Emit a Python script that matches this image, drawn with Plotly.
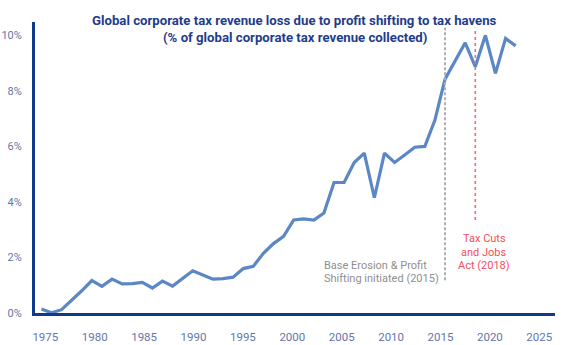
import plotly.graph_objects as go

# Global corporate tax revenue lost to profit shifting, % of revenue collected
years = list(range(1975, 2023))
loss_pct = [
    0.14, 0.01, 0.12, 0.45, 0.80, 1.17, 0.96, 1.22, 1.05, 1.06,
    1.10, 0.90, 1.15, 0.97, 1.23, 1.52, 1.37, 1.22, 1.24, 1.29,
    1.60, 1.68, 2.15, 2.50, 2.76, 3.35, 3.39, 3.35, 3.60, 4.70,
    4.70, 5.42, 5.76, 4.15, 5.76, 5.42, 5.69, 5.97, 6.00, 6.95,
    8.42, 9.08, 9.73, 8.87, 10.00, 8.63, 9.89, 9.62,
]

year_ticks = [1975, 1980, 1985, 1990, 1995, 2000, 2005, 2010, 2015, 2020, 2025]
pct_ticks = [0, 2, 4, 6, 8, 10]
pct_labels = ["0%", "2%", "4%", "6%", "8%", "10%"]

beps_year = 2015
tcja_year = 2018

title_lines = [
    "Global corporate tax revenue loss due to profit shifting to tax havens",
    "(% of global corporate tax revenue collected)",
]
beps_lines = ["Base Erosion & Profit", "Shifting initiated (2015)"]
tcja_lines = ["Tax Cuts", "and Jobs", "Act (2018)"]

NAVY = "#0d3a8e"
TICK = "#6475a9"
LINE = "#5b87c6"
GREY = "#8f8f8f"
RED = "#f2505c"
FONT = "Roboto"

fig = go.Figure()
fig.add_trace(go.Scatter(
    x=years, y=loss_pct, mode="lines",
    line=dict(color=LINE, width=3.2),
    showlegend=False, hoverinfo="x+y",
))
# carrier for the labelled year axis
fig.add_trace(go.Scatter(x=[], y=[], xaxis="x2", showlegend=False))

# policy markers
fig.add_shape(type="line", xref="x", yref="y", x0=beps_year, x1=beps_year,
              y0=1.18, y1=10.27, line=dict(color="#b0b0b0", width=2, dash="3px,2px"))
fig.add_shape(type="line", xref="x", yref="y", x0=tcja_year, x1=tcja_year,
              y0=3.35, y1=10.27, line=dict(color="#f46a72", width=1.6, dash="3px,3px"))

# marker captions, one annotation per line (13.3 px leading)
for i, txt in enumerate(beps_lines):
    fig.add_annotation(x=2002.8, y=1.71 - i * 0.48, xref="x", yref="y", text=txt,
                       showarrow=False, xanchor="left", yanchor="middle",
                       font=dict(family=FONT, size=11, color=GREY))
for i, txt in enumerate(tcja_lines):
    fig.add_annotation(x=2018.87, y=2.67 - i * 0.48, xref="x", yref="y", text=txt,
                       showarrow=False, xanchor="center", yanchor="middle",
                       font=dict(family=FONT, size=11, color=RED))

for txt, yp in zip(title_lines, [1.0045, 0.946]):
    fig.add_annotation(x=0.4994, y=yp, xref="paper", yref="paper",
                       text="<b>" + txt + "</b>", showarrow=False,
                       xanchor="center", yanchor="middle",
                       font=dict(family=FONT, size=13.2, color="#1f3c8c"))

fig.update_layout(
    width=567, height=345,
    margin=dict(l=35, r=12, t=22, b=32, autoexpand=False),
    paper_bgcolor="white", plot_bgcolor="white",
    font=dict(family=FONT, size=11, color=TICK),
    xaxis=dict(
        range=[1974.366, 2025.90], showgrid=False, zeroline=False,
        showline=True, linecolor=NAVY, linewidth=3,
        showticklabels=False, ticks="", automargin=False,
    ),
    xaxis2=dict(
        overlaying="x", side="bottom", anchor="y",
        range=[1973.957, 2026.59], showgrid=False, zeroline=False, showline=False,
        tickmode="array", tickvals=year_ticks, ticktext=[str(v) for v in year_ticks],
        ticks="", ticklabelstandoff=15, automargin=False,
        tickfont=dict(family=FONT, size=11.5, color=TICK),
    ),
    yaxis=dict(
        range=[0, 10.48], showgrid=False, zeroline=False,
        showline=True, linecolor=NAVY, linewidth=3,
        tickmode="array", tickvals=pct_ticks, ticktext=pct_labels,
        ticks="", ticklabelstandoff=8, automargin=False,
        tickfont=dict(family=FONT, size=11, color=TICK),
    ),
)

fig.write_html("out.html")
